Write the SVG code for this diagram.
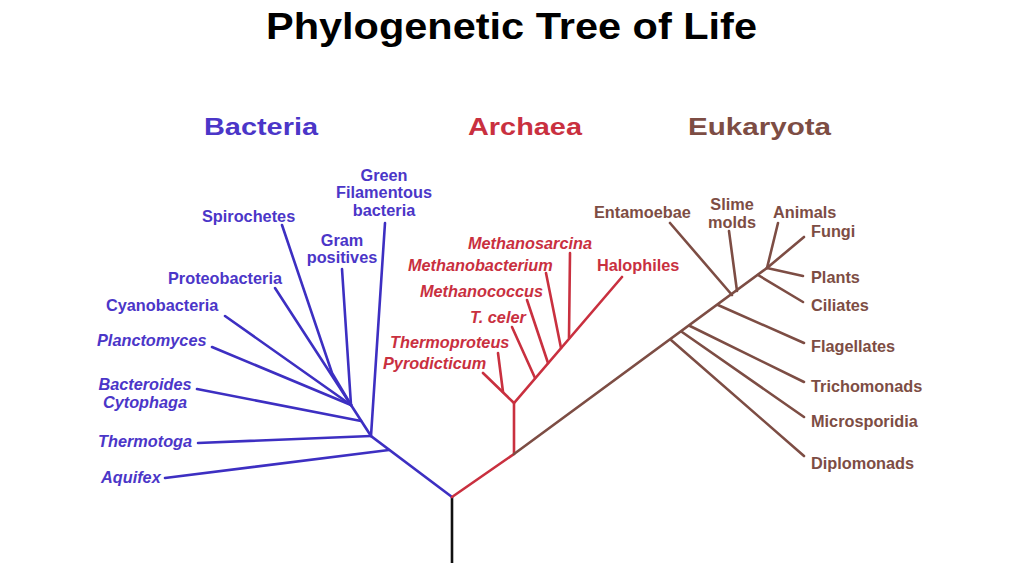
<svg xmlns="http://www.w3.org/2000/svg" width="1024" height="574" viewBox="0 0 1024 574">
<style>
text{font-family:"Liberation Sans",Arial,sans-serif;font-weight:bold}
.lbl{font-size:16.3px}
.it{font-style:italic}
.b{fill:#4b36c8}
.r{fill:#c9303f}
.e{fill:#7d4d44}
.mid{text-anchor:middle}
.hdr{font-size:23.5px}
.lb{stroke:#3d2fc2;stroke-width:2.6;fill:none;stroke-linecap:round}
.lr{stroke:#c9303f;stroke-width:2.6;fill:none;stroke-linecap:round}
.le{stroke:#7d4d44;stroke-width:2.6;fill:none;stroke-linecap:round}
.lk{stroke:#111;stroke-width:2.6;fill:none}
</style>
<rect width="1024" height="574" fill="#fff"/>
<g id="title"><text x="266" y="39" font-size="37" textLength="491" lengthAdjust="spacingAndGlyphs" fill="#000">Phylogenetic Tree of Life</text></g>
<g id="hdr-bacteria"><text class="b hdr" x="204" y="134.5" textLength="114" lengthAdjust="spacingAndGlyphs">Bacteria</text></g>
<g id="hdr-archaea"><text class="r hdr" x="468" y="134.5" textLength="114" lengthAdjust="spacingAndGlyphs">Archaea</text></g>
<g id="hdr-eukaryota"><text class="e hdr" x="688" y="134.5" textLength="143" lengthAdjust="spacingAndGlyphs">Eukaryota</text></g>

<g id="connectors">
  <path class="lk" d="M452 563 V497"/>
  <!-- bacteria -->
  <path class="lb" d="M452 497 L371 436 L351 405"/>
  <path class="lb" d="M165 478 L389 450"/>
  <path class="lb" d="M198 443 L371 436"/>
  <path class="lb" d="M385 223 L371 436"/>
  <path class="lb" d="M197 389 L361 421"/>
  <path class="lb" d="M212 347 L351 405"/>
  <path class="lb" d="M225 316 L351 405"/>
  <path class="lb" d="M275 288 L351 405"/>
  <path class="lb" d="M282 225 L332 373 L351 405"/>
  <path class="lb" d="M342 269 L351 405"/>
  <!-- archaea -->
  <path class="lr" d="M452 497 L514 454 V403"/>
  <path class="lr" d="M483 373 L514 403 L622 277"/>
  <path class="lr" d="M498 353 L503 392"/>
  <path class="lr" d="M512 327 L535 378"/>
  <path class="lr" d="M527 300 L548 363"/>
  <path class="lr" d="M546 273 L561 348"/>
  <path class="lr" d="M570 253 L569 338"/>
  <!-- eukaryota -->
  <path class="le" d="M514 454 L767 268"/>
  <path class="le" d="M671 340 L804 456"/>
  <path class="le" d="M682 332 L804 417"/>
  <path class="le" d="M690 326 L804 382"/>
  <path class="le" d="M718 305 L804 343"/>
  <path class="le" d="M758 275 L803 302"/>
  <path class="le" d="M767 268 L803 276"/>
  <path class="le" d="M767 268 L804 237"/>
  <path class="le" d="M778 223 L767 268"/>
  <path class="le" d="M729 231 L737 291"/>
  <path class="le" d="M670 223 L732 295"/>
</g>

<g id="n-green"><text class="lbl b mid" x="384" y="181">Green</text><text class="lbl b mid" x="384" y="198">Filamentous</text><text class="lbl b mid" x="384" y="216">bacteria</text></g>
<g id="n-spirochetes"><text class="lbl b" x="202" y="221.5">Spirochetes</text></g>
<g id="n-gram"><text class="lbl b mid" x="342" y="246">Gram</text><text class="lbl b mid" x="342" y="263">positives</text></g>
<g id="n-proteobacteria"><text class="lbl b" x="168" y="284">Proteobacteria</text></g>
<g id="n-cyanobacteria"><text class="lbl b" x="106" y="311">Cyanobacteria</text></g>
<g id="n-planctomyces"><text class="lbl b it" x="97" y="346">Planctomyces</text></g>
<g id="n-bacteroides"><text class="lbl b it mid" x="145" y="390">Bacteroides</text><text class="lbl b it mid" x="145" y="408">Cytophaga</text></g>
<g id="n-thermotoga"><text class="lbl b it" x="98" y="447">Thermotoga</text></g>
<g id="n-aquifex"><text class="lbl b it" x="101" y="483">Aquifex</text></g>

<g id="n-methanosarcina"><text class="lbl r it" x="468" y="249">Methanosarcina</text></g>
<g id="n-methanobacterium"><text class="lbl r it" x="408" y="271">Methanobacterium</text></g>
<g id="n-halophiles"><text class="lbl r" x="597" y="271">Halophiles</text></g>
<g id="n-methanococcus"><text class="lbl r it" x="420" y="297">Methanococcus</text></g>
<g id="n-tceler"><text class="lbl r it" x="470" y="323">T. celer</text></g>
<g id="n-thermoproteus"><text class="lbl r it" x="390" y="348">Thermoproteus</text></g>
<g id="n-pyrodicticum"><text class="lbl r it" x="383" y="369">Pyrodicticum</text></g>

<g id="n-entamoebae"><text class="lbl e" x="594" y="218">Entamoebae</text></g>
<g id="n-slime"><text class="lbl e mid" x="732" y="210">Slime</text><text class="lbl e mid" x="732" y="228">molds</text></g>
<g id="n-animals"><text class="lbl e" x="773" y="218">Animals</text></g>
<g id="n-fungi"><text class="lbl e" x="811" y="237">Fungi</text></g>
<g id="n-plants"><text class="lbl e" x="811" y="283">Plants</text></g>
<g id="n-ciliates"><text class="lbl e" x="811" y="311">Ciliates</text></g>
<g id="n-flagellates"><text class="lbl e" x="811" y="352">Flagellates</text></g>
<g id="n-trichomonads"><text class="lbl e" x="811" y="392">Trichomonads</text></g>
<g id="n-microsporidia"><text class="lbl e" x="811" y="427">Microsporidia</text></g>
<g id="n-diplomonads"><text class="lbl e" x="811" y="469">Diplomonads</text></g>
</svg>
